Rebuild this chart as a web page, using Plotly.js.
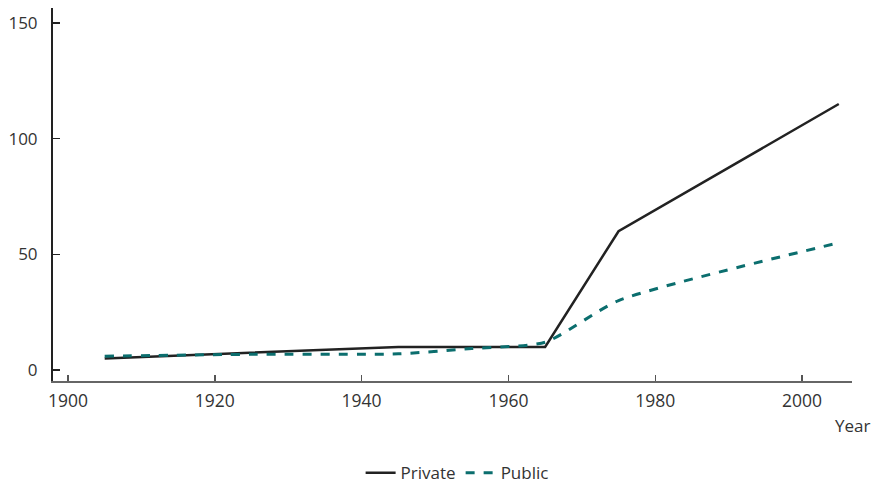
<!DOCTYPE html>
<html><head><meta charset="utf-8">
<script src="https://cdn.plot.ly/plotly-3.0.1.min.js"></script>
<style>html,body{margin:0;padding:0;background:#fff}#chart{width:873px;height:483px}</style>
</head><body><div id="chart"></div>
<script>
const privateYears = [1905, 1945, 1965, 1975, 2005];
const privateValues = [5, 10, 10, 60, 115];
const publicYears = [1905, 1925, 1945, 1955, 1965, 1975, 2005];
const publicValues = [6, 6.8, 7, 9.3, 12, 30, 55];
const xTicks = [1900, 1920, 1940, 1960, 1980, 2000];
const yTicks = [0, 50, 100, 150];

const font = {family: "Open Sans, sans-serif", size: 17, color: "#333"};
const traces = [
  {x: privateYears, y: privateValues, name: "Private", mode: "lines",
   line: {color: "#222", width: 2.5}},
  {x: publicYears, y: publicValues, name: "Public", mode: "lines",
   line: {color: "#0b6e6e", width: 3, dash: "dash", shape: "spline", smoothing: 0.6}}
];
const layout = {
  width: 873, height: 483,
  margin: {l: 53, r: 21, t: 8, b: 102, autoexpand: false},
  paper_bgcolor: "#fff", plot_bgcolor: "#fff",
  font: font,
  showlegend: true,
  legend: {orientation: "h", x: 0.385, xanchor: "left", y: -0.247, yanchor: "middle",
           font: font, itemwidth: 30},
  xaxis: {range: [1897.96, 2006.8], tickvals: xTicks, ticktext: xTicks.map(String),
          ticks: "inside", ticklen: 6, tickwidth: 1.5, tickcolor: "#555",
          showline: true, linecolor: "#666", linewidth: 2, showgrid: false, zeroline: false,
          ticklabelstandoff: 3, tickfont: {family: font.family, size: 17.5, color: "#333"}, automargin: false},
  yaxis: {range: [-4.75, 156.5], tickvals: yTicks, ticktext: yTicks.map(String),
          ticks: "inside", ticklen: 7, tickwidth: 1.5, tickcolor: "#222",
          showline: true, linecolor: "#222", linewidth: 2, showgrid: false, zeroline: false,
          ticklabelstandoff: 10, tickfont: font, automargin: false},
  annotations: [{text: "Year", xref: "paper", yref: "paper", x: 1.025, y: -0.118,
                 xanchor: "right", yanchor: "middle", showarrow: false, font: font}]
};
Plotly.newPlot("chart", traces, layout, {staticPlot: true, displayModeBar: false});
</script></body></html>
